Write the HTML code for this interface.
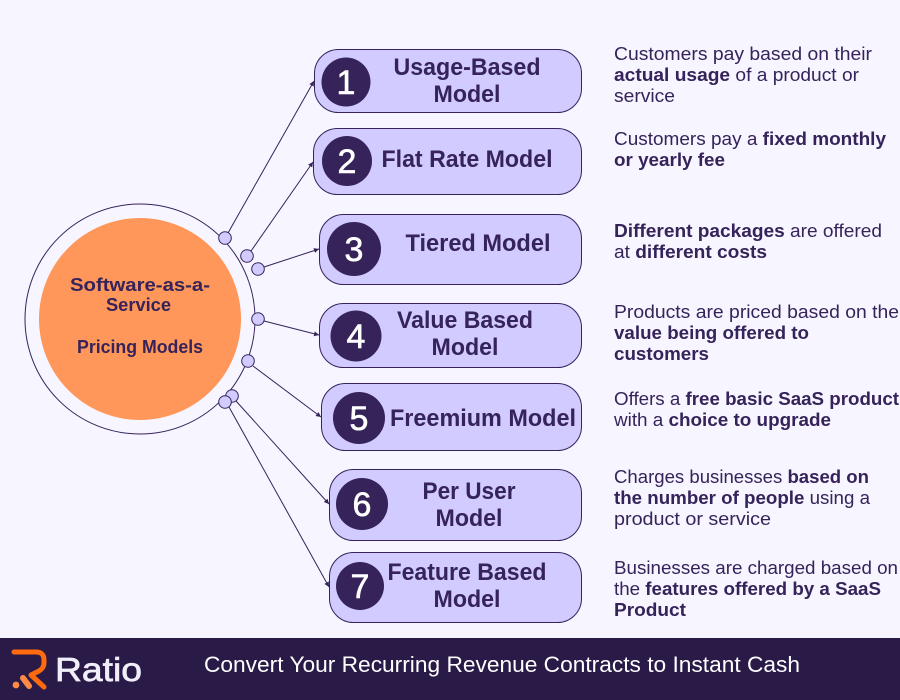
<!DOCTYPE html>
<html lang="en">
<head>
<meta charset="utf-8">
<style>
html,body{margin:0;padding:0;background:#f7f5ff}
svg{display:block}
text{font-family:"Liberation Sans",sans-serif;fill:#35235a}
.t{font-size:24px;font-weight:bold;text-anchor:middle}
.n{font-size:34px;fill:#fff;stroke:#fff;stroke-width:.6;text-anchor:middle}
.d{font-size:18px}
.b{font-weight:bold}
.c{font-size:18px;font-weight:bold;text-anchor:middle}
</style>
</head>
<body>
<svg width="900" height="700" viewBox="0 0 900 700" xmlns="http://www.w3.org/2000/svg">
<defs>
<marker id="a" markerWidth="6" markerHeight="6" refX="5" refY="3" orient="auto" markerUnits="userSpaceOnUse"><path d="M0 0.5L5 3L0 5.5z" fill="#35235a"/></marker>
</defs>
<rect width="900" height="700" fill="#f7f5ff"/>

<circle cx="140" cy="319" r="115" fill="#f7f5ff" stroke="#35235a" stroke-width="1"/>
<circle cx="140" cy="319" r="101" fill="#ff965a"/>
<text class="c" x="140" y="291" textLength="140" lengthAdjust="spacingAndGlyphs">Software-as-a-</text>
<text class="c" x="138.5" y="311" textLength="65" lengthAdjust="spacingAndGlyphs">Service</text>
<text class="c" x="140" y="353" textLength="126" lengthAdjust="spacingAndGlyphs">Pricing Models</text>

<g stroke="#35235a" stroke-width="1" fill="none" marker-end="url(#a)">
<line x1="228" y1="233" x2="314" y2="81"/>
<line x1="251" y1="251" x2="313" y2="162"/>
<line x1="264" y1="267" x2="319" y2="249"/>
<line x1="264" y1="321" x2="319" y2="335"/>
<line x1="253" y1="366" x2="321" y2="417"/>
<line x1="236" y1="401" x2="329" y2="504"/>
<line x1="229" y1="407" x2="329" y2="587"/>
</g>
<g fill="#d2cbff" stroke="#35235a" stroke-width="1">
<circle cx="225" cy="238" r="6.3"/>
<circle cx="247" cy="256" r="6.3"/>
<circle cx="258" cy="269" r="6.3"/>
<circle cx="258" cy="319" r="6.3"/>
<circle cx="248" cy="361" r="6.3"/>
<circle cx="232" cy="396" r="6.3"/>
<circle cx="225" cy="402" r="6.3"/>
</g>

<g fill="#d2cbff" stroke="#35235a" stroke-width="1">
<rect x="314.5" y="49.5" width="267" height="63" rx="24"/>
<rect x="313.5" y="128.5" width="268" height="66" rx="24"/>
<rect x="319.5" y="214.5" width="262" height="70" rx="24"/>
<rect x="319.5" y="303.5" width="262" height="64" rx="24"/>
<rect x="321.5" y="383.5" width="260" height="67" rx="24"/>
<rect x="329.5" y="469.5" width="252" height="71" rx="24"/>
<rect x="329.5" y="552.5" width="252" height="70" rx="24"/>
</g>
<g fill="#35235a">
<circle cx="346" cy="82" r="24.5"/>
<circle cx="347" cy="161" r="25"/>
<circle cx="354" cy="249" r="27"/>
<circle cx="356" cy="336" r="25.5"/>
<circle cx="359" cy="418" r="26"/>
<circle cx="362" cy="504" r="26"/>
<circle cx="360" cy="586" r="24"/>
</g>
<text class="n" x="346" y="94">1</text>
<text class="n" x="347" y="173">2</text>
<text class="n" x="354" y="261">3</text>
<text class="n" x="356" y="348">4</text>
<text class="n" x="359" y="430">5</text>
<text class="n" x="362" y="516">6</text>
<text class="n" x="360" y="598">7</text>

<text class="t" x="467" y="75" textLength="147" lengthAdjust="spacingAndGlyphs">Usage-Based</text>
<text class="t" x="467" y="102" textLength="67" lengthAdjust="spacingAndGlyphs">Model</text>
<text class="t" x="467" y="167" textLength="171" lengthAdjust="spacingAndGlyphs">Flat Rate Model</text>
<text class="t" x="478" y="251" textLength="145" lengthAdjust="spacingAndGlyphs">Tiered Model</text>
<text class="t" x="465" y="328" textLength="136" lengthAdjust="spacingAndGlyphs">Value Based</text>
<text class="t" x="465" y="355" textLength="67" lengthAdjust="spacingAndGlyphs">Model</text>
<text class="t" x="483" y="426" textLength="186" lengthAdjust="spacingAndGlyphs">Freemium Model</text>
<text class="t" x="469" y="499" textLength="93" lengthAdjust="spacingAndGlyphs">Per User</text>
<text class="t" x="469" y="526" textLength="67" lengthAdjust="spacingAndGlyphs">Model</text>
<text class="t" x="467" y="580" textLength="159" lengthAdjust="spacingAndGlyphs">Feature Based</text>
<text class="t" x="467" y="607" textLength="67" lengthAdjust="spacingAndGlyphs">Model</text>

<g class="d">
<text class="d" x="614" y="60" textLength="258" lengthAdjust="spacingAndGlyphs">Customers pay based on their</text>
<text class="d" x="614" y="81" textLength="245" lengthAdjust="spacingAndGlyphs"><tspan class="b">actual usage</tspan> of a product or</text>
<text class="d" x="614" y="102" textLength="61" lengthAdjust="spacingAndGlyphs">service</text>
<text class="d" x="614" y="145" textLength="272" lengthAdjust="spacingAndGlyphs">Customers pay a <tspan class="b">fixed monthly</tspan></text>
<text class="d" x="614" y="166" textLength="111" lengthAdjust="spacingAndGlyphs"><tspan class="b">or yearly fee</tspan></text>
<text class="d" x="614" y="237" textLength="268" lengthAdjust="spacingAndGlyphs"><tspan class="b">Different packages</tspan> are offered</text>
<text class="d" x="614" y="258" textLength="153" lengthAdjust="spacingAndGlyphs">at <tspan class="b">different costs</tspan></text>
<text class="d" x="614" y="318" textLength="285" lengthAdjust="spacingAndGlyphs">Products are priced based on the</text>
<text class="d" x="614" y="339" textLength="195" lengthAdjust="spacingAndGlyphs"><tspan class="b">value being offered to</tspan></text>
<text class="d" x="614" y="360" textLength="95" lengthAdjust="spacingAndGlyphs"><tspan class="b">customers</tspan></text>
<text class="d" x="614" y="405" textLength="285" lengthAdjust="spacingAndGlyphs">Offers a <tspan class="b">free basic SaaS product</tspan></text>
<text class="d" x="614" y="426" textLength="217" lengthAdjust="spacingAndGlyphs">with a <tspan class="b">choice to upgrade</tspan></text>
<text class="d" x="614" y="483" textLength="255" lengthAdjust="spacingAndGlyphs">Charges businesses <tspan class="b">based on</tspan></text>
<text class="d" x="614" y="504" textLength="256" lengthAdjust="spacingAndGlyphs"><tspan class="b">the number of people</tspan> using a</text>
<text class="d" x="614" y="525" textLength="157" lengthAdjust="spacingAndGlyphs">product or service</text>
<text class="d" x="614" y="574" textLength="284" lengthAdjust="spacingAndGlyphs">Businesses are charged based on</text>
<text class="d" x="614" y="595" textLength="267" lengthAdjust="spacingAndGlyphs">the <tspan class="b">features offered by a SaaS</tspan></text>
<text class="d" x="614" y="616" textLength="72" lengthAdjust="spacingAndGlyphs"><tspan class="b">Product</tspan></text>
</g>

<rect x="0" y="638" width="900" height="62" fill="#291a47"/>
<path d="M14 652H36Q44 652 44 660V663Q44 668 39 671L31 675L44 687" fill="none" stroke="#ff6a0f" stroke-width="5" stroke-linecap="round" stroke-linejoin="round"/>
<line x1="23" y1="678" x2="29" y2="686" stroke="#ff8a45" stroke-width="6" stroke-linecap="round"/>
<circle cx="16" cy="685" r="3.4" fill="#ff8a45"/>
<text x="55" y="681" style="font-size:33px;fill:#f0eef9;stroke:#f0eef9;stroke-width:.7" textLength="87" lengthAdjust="spacingAndGlyphs">Ratio</text>
<text x="204" y="672" style="font-size:22px;fill:#fff" textLength="596" lengthAdjust="spacingAndGlyphs">Convert Your Recurring Revenue Contracts to Instant Cash</text>
</svg>
</body>
</html>
